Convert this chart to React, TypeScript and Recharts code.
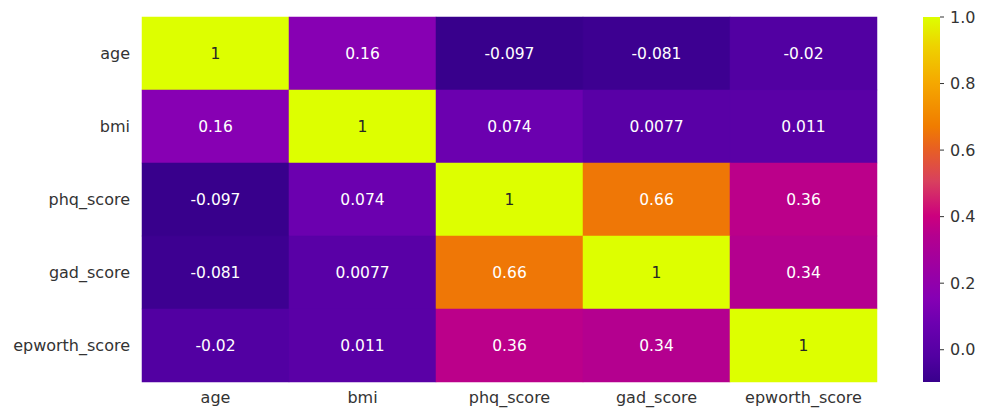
import React from 'react'
import { ScatterChart, Scatter, XAxis, YAxis, BarChart, Bar } from 'recharts'

const VARIABLES = ['age', 'bmi', 'phq_score', 'gad_score', 'epworth_score']

const CORR_AGE = [1, 0.16, -0.097, -0.081, -0.02]
const CORR_BMI = [0.16, 1, 0.074, 0.0077, 0.011]
const CORR_PHQ = [-0.097, 0.074, 1, 0.66, 0.36]
const CORR_GAD = [-0.081, 0.0077, 0.66, 1, 0.34]
const CORR_EPWORTH = [-0.02, 0.011, 0.36, 0.34, 1]

const CORR_ROWS = [CORR_AGE, CORR_BMI, CORR_PHQ, CORR_GAD, CORR_EPWORTH]

const COLORBAR_TICKS = [0, 0.2, 0.4, 0.6, 0.8, 1]

const V_MIN = -0.097
const V_MAX = 1

// colour ramp
const COLOR_STOPS: [number, string][] = [
  [0, '#38008c'],
  [0.07, '#5200a2'],
  [0.16, '#6c00b0'],
  [0.23, '#8600b4'],
  [0.4, '#b4008f'],
  [0.455, '#cc007e'],
  [0.55, '#d8405e'],
  [0.64, '#e86022'],
  [0.7, '#f07c00'],
  [0.82, '#f5a800'],
  [0.92, '#eed200'],
  [1, '#ddff00']
]

const FONT = '"DejaVu Sans", sans-serif'
const TEXT = '#333333'
const LABEL_SIZE = 16
const ANNOT_SIZE = 15.5

// plot area of the heatmap
const PLOT_LEFT = 142
const PLOT_RIGHT = 877
const PLOT_TOP = 17
const PLOT_BOTTOM = 382
const CELL_W = (PLOT_RIGHT - PLOT_LEFT) / VARIABLES.length
const CELL_H = (PLOT_BOTTOM - PLOT_TOP) / VARIABLES.length

const hexToRgb = (h: string) => [1, 3, 5].map(i => parseInt(h.slice(i, i + 2), 16))

const colorFor = (v: number) => {
  const t = Math.min(1, Math.max(0, (v - V_MIN) / (V_MAX - V_MIN)))
  for (let i = 1; i < COLOR_STOPS.length; i++) {
    const [t1, c1] = COLOR_STOPS[i]
    const [t0, c0] = COLOR_STOPS[i - 1]
    if (t <= t1) {
      const f = (t - t0) / (t1 - t0)
      const a = hexToRgb(c0)
      const b = hexToRgb(c1)
      const rgb = a.map((x, k) => Math.round(x + (b[k] - x) * f))
      return `rgb(${rgb.join(',')})`
    }
  }
  return COLOR_STOPS[COLOR_STOPS.length - 1][1]
}

const cells = CORR_ROWS.flatMap((row, i) =>
  row.map((v, j) => ({ x: j + 0.5, y: i + 0.5, v }))
)

const HeatCell = (props: any) => {
  const { cx, cy, payload } = props
  if (cx == null || cy == null) return null
  const v = payload.v
  return (
    <g>
      <rect
        x={cx - CELL_W / 2}
        y={cy - CELL_H / 2}
        width={CELL_W}
        height={CELL_H}
        fill={colorFor(v)}
        stroke={colorFor(v)}
        strokeWidth={0.5}
      />
      <text
        x={cx}
        y={cy}
        textAnchor="middle"
        dominantBaseline="central"
        fontFamily={FONT}
        fontSize={ANNOT_SIZE}
        fill={v > 0.9 ? '#262626' : '#ffffff'}
      >
        {String(v)}
      </text>
    </g>
  )
}

const colorbarData = [{ name: 'cb', range: [V_MIN, V_MAX] }]

export default function App() {
  return (
    <div style={{ position: 'absolute', left: 0, top: 0, width: 990, height: 410, background: '#fff', fontFamily: FONT }}>
      <div style={{ position: 'absolute', left: 0, top: 0 }}>
        <ScatterChart
          width={890}
          height={410}
          margin={{ top: PLOT_TOP, right: 890 - PLOT_RIGHT, bottom: 0, left: 0 }}
        >
          <XAxis
            type="number"
            dataKey="x"
            domain={[0, 5]}
            ticks={[0.5, 1.5, 2.5, 3.5, 4.5]}
            tickFormatter={(t: number) => VARIABLES[Math.floor(t)]}
            interval={0}
            height={410 - PLOT_BOTTOM}
            axisLine={false}
            tickLine={false}
            tick={{ fill: TEXT, fontSize: LABEL_SIZE, fontFamily: FONT }}
            tickMargin={4}
          />
          <YAxis
            type="number"
            dataKey="y"
            domain={[0, 5]}
            reversed
            ticks={[0.5, 1.5, 2.5, 3.5, 4.5]}
            tickFormatter={(t: number) => VARIABLES[Math.floor(t)]}
            interval={0}
            width={PLOT_LEFT}
            axisLine={false}
            tickLine={false}
            tick={{ fill: TEXT, fontSize: LABEL_SIZE, fontFamily: FONT }}
            tickMargin={6}
          />
          <Scatter data={cells} shape={HeatCell} isAnimationActive={false} />
        </ScatterChart>
      </div>
      <div style={{ position: 'absolute', left: 890, top: 0 }}>
        <BarChart
          width={100}
          height={410}
          data={colorbarData}
          margin={{ top: PLOT_TOP, right: 0, bottom: 410 - PLOT_BOTTOM, left: 33 }}
          barCategoryGap={0}
        >
          <defs>
            <linearGradient id="cbGrad" x1="0" y1="0" x2="0" y2="1">
              {COLOR_STOPS.map(([t, c]) => (
                <stop key={t} offset={`${(1 - t) * 100}%`} stopColor={c} />
              )).reverse()}
            </linearGradient>
          </defs>
          <XAxis dataKey="name" hide />
          <YAxis
            orientation="right"
            type="number"
            domain={[V_MIN, V_MAX]}
            allowDataOverflow
            ticks={COLORBAR_TICKS}
            tickFormatter={(t: number) => t.toFixed(1)}
            width={50}
            axisLine={false}
            tickSize={4}
            tickMargin={6}
            tickLine={{ stroke: TEXT }}
            tick={{ fill: TEXT, fontSize: LABEL_SIZE, fontFamily: FONT, textAnchor: 'start' }}
          />
          <Bar dataKey="range" fill="url(#cbGrad)" isAnimationActive={false} />
        </BarChart>
      </div>
    </div>
  )
}
